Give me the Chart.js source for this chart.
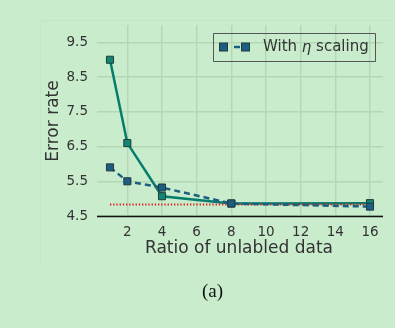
<!DOCTYPE html>
<html>
<head>
<meta charset="utf-8">
<script src="https://cdn.jsdelivr.net/npm/chart.js@4/dist/chart.umd.min.js"></script>
<style>
  html, body { margin: 0; padding: 0; background: #c9eccd; }
  #wrap { position: relative; width: 395px; height: 328px; }
  #frame { position: absolute; left: 40px; top: 20px; width: 400px; height: 243px;
    border-left: 1px solid rgba(0,0,0,0.025); border-top: 1px solid rgba(0,0,0,0.025); }
  #chart { position: absolute; left: 0; top: 0; }
  #cap { position: absolute; left: 0; width: 425px; top: 280px; text-align: center;
    font-family: "Liberation Serif", "DejaVu Serif", serif; font-size: 19px; color: #111; }
</style>
</head>
<body>
<div id="wrap">
  <div id="frame"></div>
  <canvas id="chart" width="395" height="328"></canvas>
  <div id="cap">(a)</div>
</div>
<script>
// data
const ratios = [1, 2, 4, 8, 16];
const plainErr = [9.0, 6.6, 5.07, 4.86, 4.87];
const etaErr = [5.9, 5.5, 5.32, 4.86, 4.77];
const baseX = [1, 16];
const baseErr = [4.83, 4.83];
const xTicks = [2, 4, 6, 8, 10, 12, 14, 16];
const yTicks = [4.5, 5.5, 6.5, 7.5, 8.5, 9.5];

const textCol = "#333333";
const gridCol = "#b2d8b7";
const font = "'DejaVu Sans', sans-serif";

const toPts = (xs, ys) => xs.map((x, i) => ({ x: x, y: ys[i] }));

// axis titles + legend drawn by hand
const extras = {
  id: "extras",
  afterDraw(chart) {
    const ctx = chart.ctx;
    const a = chart.chartArea;
    ctx.save();
    // bottom spine
    ctx.strokeStyle = "#111";
    ctx.lineWidth = 1.3;
    ctx.beginPath();
    ctx.moveTo(a.left, a.bottom + 0.5);
    ctx.lineTo(a.right, a.bottom + 0.5);
    ctx.stroke();

    ctx.fillStyle = textCol;
    ctx.font = "17px " + font;
    ctx.textAlign = "center";
    ctx.textBaseline = "middle";
    ctx.fillText("Ratio of unlabled data", (a.left + a.right) / 2 - 1, 249);
    ctx.save();
    ctx.translate(54, 121);
    ctx.rotate(-Math.PI / 2);
    ctx.fillText("Error rate", 0, 0);
    ctx.restore();

    // legend box
    const bx = 213.5, by = 33.5, bw = 162, bh = 28;
    ctx.strokeStyle = "#555";
    ctx.lineWidth = 1;
    ctx.beginPath();
    ctx.rect(bx, by, bw, bh);
    ctx.stroke();
    const ly = 47;
    ctx.strokeStyle = "#1d5f7e";
    ctx.lineWidth = 2.5;
    ctx.beginPath();
    ctx.moveTo(234, ly);
    ctx.lineTo(240, ly);
    ctx.stroke();
    [223.5, 245.5].forEach(cx => {
      ctx.fillStyle = "#1d5f80";
      ctx.fillRect(cx - 4, ly - 4, 8, 8);
      ctx.strokeStyle = "#203a40";
      ctx.lineWidth = 1;
      ctx.strokeRect(cx - 4, ly - 4, 8, 8);
    });
    ctx.fillStyle = textCol;
    ctx.textAlign = "left";
    ctx.font = "15px " + font;
    let tx = 263;
    ctx.fillText("With ", tx, ly);
    tx += ctx.measureText("With ").width;
    ctx.font = "italic 15px 'DejaVu Sans', sans-serif";
    ctx.fillText("\u03B7", tx, ly + 1);
    tx += ctx.measureText("\u03B7").width;
    ctx.font = "15px " + font;
    ctx.fillText(" scaling", tx, ly);
    ctx.restore();
  }
};

new Chart(document.getElementById("chart"), {
  type: "line",
  data: {
    datasets: [
      {
        data: toPts(ratios, etaErr),
        borderColor: "#1d5f7e",
        borderWidth: 2.5,
        borderDash: [6, 4],
        pointStyle: "rect",
        pointRadius: 5,
        pointBackgroundColor: "#1d5f80",
        pointBorderColor: "#203a40",
        pointBorderWidth: 1,
        order: 1
      },
      {
        data: toPts(baseX, baseErr),
        borderColor: "#d81c1c",
        borderWidth: 2,
        borderDash: [1.3, 1.9],
        pointRadius: 0,
        order: 2
      },
      {
        data: toPts(ratios, plainErr),
        borderColor: "#067d6c",
        borderWidth: 2.5,
        pointStyle: "rect",
        pointRadius: 5,
        pointBackgroundColor: "#108673",
        pointBorderColor: "#1f3d38",
        pointBorderWidth: 1,
        order: 3
      }
    ]
  },
  options: {
    responsive: false,
    animation: false,
    layout: { padding: { top: 25, right: 12, left: 0, bottom: 0 } },
    plugins: { legend: { display: false }, tooltip: { enabled: false } },
    scales: {
      x: {
        type: "linear",
        min: 0.25,
        max: 16.75,
        afterBuildTicks: s => { s.ticks = xTicks.map(v => ({ value: v })); },
        afterFit: s => { s.height = 112; },
        grid: { color: gridCol, lineWidth: 1.4, drawTicks: false },
        border: { display: false },
        ticks: { color: textCol, font: { family: font, size: 13.5 }, padding: 8 }
      },
      y: {
        min: 4.5,
        max: 10,
        afterBuildTicks: s => { s.ticks = yTicks.map(v => ({ value: v })); },
        afterFit: s => { s.width = 97; },
        grid: { color: gridCol, lineWidth: 1.4, drawTicks: false },
        border: { display: false },
        ticks: { color: textCol, font: { family: font, size: 13.5 }, padding: 9,
          callback: v => v.toFixed(1) }
      }
    }
  },
  plugins: [extras]
});
</script>
</body>
</html>
